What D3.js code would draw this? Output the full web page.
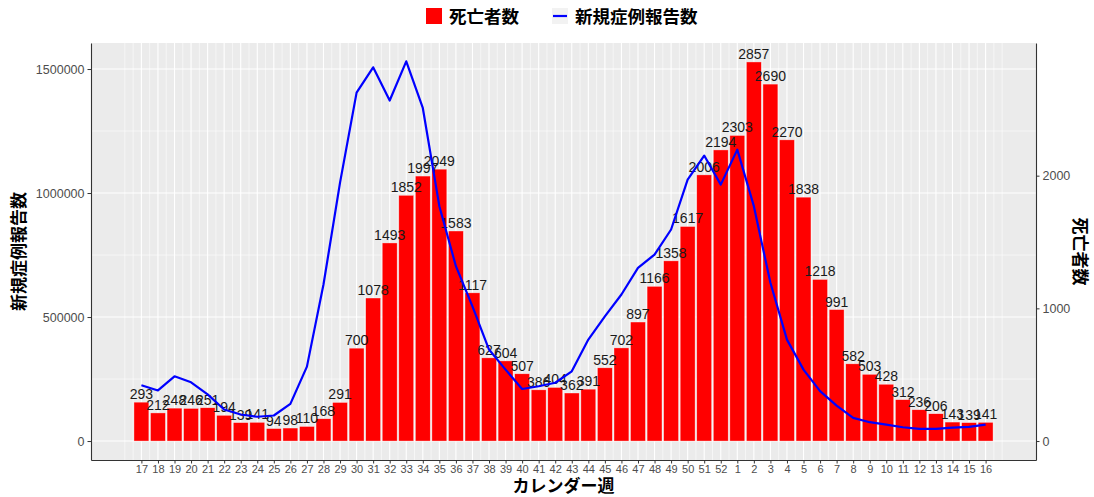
<!DOCTYPE html>
<html>
<head>
<meta charset="utf-8">
<script src="https://cdn.jsdelivr.net/npm/d3@7"></script>
<style>
  body { margin: 0; background: #fff; }
  svg text { font-family: "Liberation Sans", Arial, sans-serif; }
  .jp { font-family: "Noto Sans CJK JP", sans-serif; font-weight: bold; }
</style>
</head>
<body>
<div id="chart"></div>
<script>
// week labels (calendar weeks, spanning the year change)
var weeks = ["17","18","19","20","21","22","23","24","25","26","27","28","29","30","31","32","33","34","35",
             "36","37","38","39","40","41","42","43","44","45","46","47","48","49","50","51","52",
             "1","2","3","4","5","6","7","8","9","10","11","12","13","14","15","16"];

// deaths per week (bars)
var deaths = [293, 212, 248, 246, 251, 194, 139, 141, 94, 98, 110, 168, 291, 700, 1078, 1493, 1852, 1997, 2049,
              1583, 1117, 627, 604, 507, 386, 404, 362, 391, 552, 702, 897, 1166, 1358, 1617, 2006, 2194,
              2303, 2857, 2690, 2270, 1838, 1218, 991, 582, 503, 428, 312, 236, 206, 143, 139, 141];

// new reported cases per week (line)
var cases = [225000, 204000, 261000, 237000, 188000, 127000, 107000, 98000, 103000, 150000, 300000, 631000,
             1042000, 1405000, 1507000, 1373000, 1531000, 1343000, 947000, 705000, 543000, 369000, 288000,
             210000, 221000, 235000, 281000, 409000, 503000, 591000, 698000, 752000, 853000, 1054000,
             1151000, 1034000, 1175000, 947000, 638000, 409000, 288000, 201000, 143000, 93500, 76000,
             66500, 55600, 49000, 49000, 54400, 57000, 66500];

var leftTicks = [0, 500000, 1000000, 1500000];
var leftMinor = [250000, 750000, 1250000];
var rightTicks = [0, 1000, 2000];

// deaths are drawn on the cases scale multiplied by this factor
var ratio = 535;

var W = 1094, H = 497;
var panel = {left: 91, right: 1036, top: 43, bottom: 460};

// x: continuous position index with 5% expansion
var xMin = -0.45, xMax = weeks.length - 1 + 0.45;
var xPad = (xMax - xMin) * 0.05;
var xScale = d3.scaleLinear()
    .domain([xMin - xPad, xMax + xPad])
    .range([panel.left, panel.right]);

var yMax = d3.max(deaths) * ratio;
var yPad = yMax * 0.05;
var yScale = d3.scaleLinear()
    .domain([-yPad, yMax + yPad])
    .range([panel.bottom, panel.top]);

var yRight = d3.scaleLinear()
    .domain([-yPad / ratio, (yMax + yPad) / ratio])
    .range([panel.bottom, panel.top]);

var svg = d3.select("#chart").append("svg")
    .attr("width", W)
    .attr("height", H);

// panel background
svg.append("rect")
    .attr("x", panel.left).attr("y", panel.top)
    .attr("width", panel.right - panel.left)
    .attr("height", panel.bottom - panel.top)
    .attr("fill", "#EBEBEB");

var grid = svg.append("g");

// vertical grid: majors on weeks, minors at half steps (one extra step each side)
var vLines = d3.range(-2, weeks.length * 2 + 1).map(function(d) { return d / 2; });
grid.selectAll("line.v")
    .data(vLines)
    .enter().append("line")
    .attr("x1", function(d) { return xScale(d); })
    .attr("x2", function(d) { return xScale(d); })
    .attr("y1", panel.top).attr("y2", panel.bottom)
    .attr("stroke", "#fff")
    .attr("stroke-width", function(d) { return (d % 1 === 0 && d >= 0 && d < weeks.length) ? 1.1 : 0.55; });

grid.selectAll("line.hmin")
    .data(leftMinor)
    .enter().append("line")
    .attr("x1", panel.left).attr("x2", panel.right)
    .attr("y1", function(d) { return yScale(d); })
    .attr("y2", function(d) { return yScale(d); })
    .attr("stroke", "#fff").attr("stroke-width", 0.55);

grid.selectAll("line.hmaj")
    .data(leftTicks)
    .enter().append("line")
    .attr("x1", panel.left).attr("x2", panel.right)
    .attr("y1", function(d) { return yScale(d); })
    .attr("y2", function(d) { return yScale(d); })
    .attr("stroke", "#fff").attr("stroke-width", 1.1);

// bars
var bw = xScale(0.45) - xScale(-0.45);
svg.append("g").selectAll("rect")
    .data(deaths)
    .enter().append("rect")
    .attr("x", function(d, i) { return xScale(i) - bw / 2; })
    .attr("y", function(d) { return yScale(d * ratio); })
    .attr("width", bw)
    .attr("height", function(d) { return yScale(0) - yScale(d * ratio); })
    .attr("fill", "#FF0000")
    .attr("stroke", "#ffffff")
    .attr("stroke-opacity", 0.6)
    .attr("stroke-width", 0.6);

// bar labels
svg.append("g").selectAll("text")
    .data(deaths)
    .enter().append("text")
    .attr("x", function(d, i) { return xScale(i); })
    .attr("y", function(d) { return yScale(d * ratio) - 3; })
    .attr("text-anchor", "middle")
    .attr("font-size", "14px")
    .attr("fill", "#1a1a1a")
    .text(function(d) { return d; });

// cases line
var line = d3.line()
    .x(function(d, i) { return xScale(i); })
    .y(function(d) { return yScale(d); });

svg.append("path")
    .datum(cases)
    .attr("d", line)
    .attr("fill", "none")
    .attr("stroke", "#0000FF")
    .attr("stroke-width", 2.2)
    .attr("stroke-linejoin", "round");

// axes
var xAxis = d3.axisBottom(xScale)
    .tickValues(d3.range(weeks.length))
    .tickFormat(function(i) { return weeks[i]; })
    .tickSizeInner(3.5).tickSizeOuter(0).tickPadding(2);

var gx = svg.append("g")
    .attr("transform", "translate(0," + panel.bottom + ")")
    .call(xAxis);
gx.selectAll("text").attr("font-size", "11px").attr("fill", "#4D4D4D");

var yAxisL = d3.axisLeft(yScale)
    .tickValues(leftTicks)
    .tickFormat(d3.format("d"))
    .tickSizeInner(3.5).tickSizeOuter(0).tickPadding(3);

var gyl = svg.append("g")
    .attr("transform", "translate(" + panel.left + ",0)")
    .call(yAxisL);
gyl.selectAll("text").attr("font-size", "12.5px").attr("fill", "#4D4D4D");

var yAxisR = d3.axisRight(yRight)
    .tickValues(rightTicks)
    .tickFormat(d3.format("d"))
    .tickSizeInner(3.5).tickSizeOuter(0).tickPadding(3);

var gyr = svg.append("g")
    .attr("transform", "translate(" + panel.right + ",0)")
    .call(yAxisR);
gyr.selectAll("text").attr("font-size", "12.5px").attr("fill", "#4D4D4D");

[gx, gyl, gyr].forEach(function(g) {
    g.select(".domain").attr("stroke", "#333").attr("stroke-width", 1.1);
    g.selectAll(".tick line").attr("stroke", "#333");
});

// axis titles
svg.append("text")
    .attr("class", "jp")
    .attr("x", (panel.left + panel.right) / 2)
    .attr("y", 492)
    .attr("text-anchor", "middle")
    .attr("font-size", "17px")
    .text("カレンダー週");

svg.append("text")
    .attr("class", "jp")
    .attr("transform", "translate(25," + (panel.top + panel.bottom) / 2 + ") rotate(-90)")
    .attr("text-anchor", "middle")
    .attr("font-size", "17px")
    .text("新規症例報告数");

svg.append("text")
    .attr("class", "jp")
    .attr("transform", "translate(1074," + (panel.top + panel.bottom) / 2 + ") rotate(90)")
    .attr("text-anchor", "middle")
    .attr("font-size", "17px")
    .text("死亡者数");

// legend
var legend = svg.append("g");
legend.append("rect")
    .attr("x", 426).attr("y", 8)
    .attr("width", 16).attr("height", 16)
    .attr("fill", "#FF0000");
legend.append("text")
    .attr("class", "jp")
    .attr("x", 449).attr("y", 22.5)
    .attr("font-size", "17.5px")
    .text("死亡者数");
legend.append("rect")
    .attr("x", 552).attr("y", 8)
    .attr("width", 16).attr("height", 16)
    .attr("fill", "#F2F2F2");
legend.append("line")
    .attr("x1", 553).attr("x2", 567)
    .attr("y1", 16).attr("y2", 16)
    .attr("stroke", "#0000FF")
    .attr("stroke-width", 2.2);
legend.append("text")
    .attr("class", "jp")
    .attr("x", 575).attr("y", 22.5)
    .attr("font-size", "17.5px")
    .text("新規症例報告数");
</script>
</body>
</html>
